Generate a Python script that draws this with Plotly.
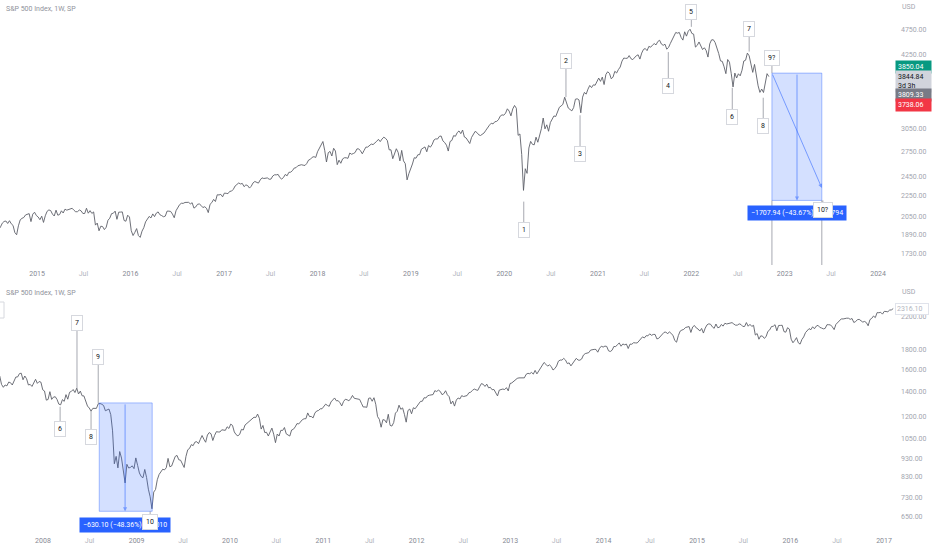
import numpy as np
import pandas as pd
import plotly.graph_objects as go

# ---------------- data (S&P 500 weekly closes) ----------------
TITLE = "S&P 500 Index, 1W, SP"
FIRST_WEEK = "2007-07-09"   # Monday of first weekly bar

close_2007 = [1552.5, 1534.1, 1458.95, 1433.1, 1453.6, 1445.9, 1479.4, 1474.0, 1453.55, 1484.25, 1525.75,
              1526.75, 1557.6, 1561.8, 1500.6, 1535.3, 1509.65, 1453.7, 1458.7, 1440.7, 1481.1, 1504.7,
              1467.95, 1484.5, 1478.5]
close_2008 = [1411.6, 1401.0, 1325.2, 1330.6, 1395.4, 1331.3, 1350.0, 1353.1, 1330.6, 1293.4, 1288.1, 1329.5,
              1315.2, 1370.4, 1332.8, 1390.3, 1397.8, 1413.9, 1388.3, 1425.35, 1375.9, 1400.4, 1360.7, 1360.0,
              1317.9, 1278.4, 1262.9, 1239.5, 1260.7, 1257.8, 1260.3, 1296.3, 1298.2, 1292.2, 1282.8, 1242.3,
              1251.7, 1255.1, 1213.3, 1099.2, 899.2, 940.55, 876.8, 968.75, 931.0, 873.3, 800.0, 896.2, 876.1,
              879.7, 887.9, 872.8]
close_2009 = [931.8, 890.35, 850.1, 831.95, 825.9, 868.6, 826.8, 770.05, 735.1, 683.4, 756.55, 768.5, 815.9,
              842.5, 856.6, 869.6, 866.2, 877.5, 929.2, 882.9, 887.0, 919.1, 940.1, 946.2, 921.2, 918.9, 896.4,
              879.1, 940.4, 979.3, 987.5, 1010.5, 1004.1, 1026.1, 1028.9, 1016.4, 1042.7, 1068.3, 1044.4,
              1025.2, 1071.5, 1087.7, 1079.6, 1036.2, 1069.3, 1093.5, 1091.4, 1091.5, 1106.0, 1106.4, 1102.5,
              1126.5, 1115.1]
close_2010 = [1145.0, 1136.0, 1091.8, 1073.9, 1066.2, 1075.5, 1109.2, 1104.5, 1138.7, 1150.0, 1159.9, 1166.6,
              1178.1, 1194.4, 1192.1, 1217.3, 1186.7, 1110.9, 1135.7, 1087.7, 1089.4, 1064.9, 1091.6, 1117.5,
              1076.8, 1022.6, 1078.0, 1064.9, 1102.7, 1101.6, 1121.6, 1079.25, 1071.7, 1064.6, 1104.5, 1109.55,
              1125.6, 1148.7, 1146.2, 1165.2, 1176.2, 1183.1, 1183.3, 1225.85, 1199.2, 1199.7, 1189.4, 1224.7,
              1240.4, 1243.9, 1256.8, 1257.6]
close_2011 = [1271.5, 1293.2, 1283.4, 1276.3, 1310.9, 1329.15, 1343.0, 1319.9, 1321.2, 1304.3, 1279.2, 1313.8,
              1332.4, 1328.2, 1319.7, 1337.4, 1363.6, 1340.2, 1337.8, 1333.3, 1331.1, 1300.2, 1271.0, 1271.5,
              1268.45, 1339.7, 1343.8, 1316.1, 1345.0, 1292.3, 1199.4, 1178.8, 1123.5, 1176.8, 1174.0, 1154.2,
              1216.0, 1136.4, 1131.4, 1155.5, 1224.6, 1238.25, 1285.1, 1253.2, 1263.85, 1215.65, 1158.7,
              1244.3, 1255.2, 1219.7, 1265.3, 1257.6]
close_2012 = [1277.8, 1289.1, 1315.4, 1316.3, 1344.9, 1342.6, 1361.2, 1365.7, 1369.6, 1370.9, 1404.2, 1397.1,
              1408.5, 1398.1, 1370.3, 1378.5, 1403.4, 1369.1, 1353.4, 1295.2, 1317.8, 1278.0, 1325.7, 1342.8,
              1335.0, 1362.2, 1354.7, 1356.8, 1362.7, 1386.0, 1391.0, 1405.9, 1418.2, 1411.1, 1406.6, 1437.9,
              1465.8, 1460.2, 1440.7, 1460.9, 1428.6, 1433.2, 1411.9, 1414.2, 1379.85, 1359.9, 1409.15, 1416.2,
              1418.1, 1413.6, 1430.15, 1402.4]
close_2013 = [1466.5, 1472.1, 1486.0, 1503.0, 1513.2, 1517.9, 1519.8, 1515.6, 1518.2, 1551.2, 1560.7, 1556.9,
              1569.2, 1553.3, 1588.85, 1555.25, 1582.2, 1614.4, 1633.7, 1667.5, 1649.6, 1630.7, 1643.4, 1626.7,
              1592.4, 1606.3, 1631.9, 1680.2, 1692.1, 1691.65, 1709.7, 1691.4, 1655.8, 1663.5, 1633.0, 1655.2,
              1688.0, 1709.9, 1691.75, 1690.5, 1703.2, 1744.5, 1759.8, 1761.6, 1770.6, 1798.2, 1804.8, 1805.8,
              1805.1, 1775.3, 1818.3, 1841.4]
close_2014 = [1831.4, 1842.4, 1838.7, 1790.3, 1782.6, 1797.0, 1838.6, 1836.25, 1859.45, 1878.0, 1841.1, 1866.5,
              1857.6, 1865.1, 1815.7, 1864.85, 1863.4, 1881.1, 1878.5, 1877.9, 1900.5, 1923.6, 1949.4, 1936.2,
              1962.9, 1961.0, 1985.4, 1967.6, 1978.2, 1978.3, 1925.15, 1931.6, 1955.1, 1988.4, 2003.4, 2007.7,
              1985.5, 2010.4, 1982.9, 1967.9, 1906.1, 1886.8, 1964.6, 2018.1, 2031.9, 2039.8, 2063.5, 2067.6,
              2075.4, 2002.3, 2070.7, 2088.8]
close_2015 = [2058.2, 2044.8, 2019.4, 2051.8, 1995.0, 2055.5, 2097.0, 2110.3, 2104.5, 2071.3, 2053.4, 2108.1,
              2061.0, 2067.0, 2102.1, 2081.2, 2117.7, 2108.3, 2116.1, 2122.7, 2126.1, 2107.4, 2092.8, 2094.1,
              2110.0, 2101.5, 2076.8, 2076.6, 2126.6, 2079.7, 2103.8, 2077.6, 2091.5, 1970.9, 1988.9, 1921.2,
              1961.1, 1958.0, 1931.3, 1951.4, 2014.9, 2033.1, 2075.2, 2079.4, 2099.2, 2023.0, 2089.2, 2090.1,
              2091.7, 2012.4, 2005.6, 2061.0]
close_2016 = [2043.9, 1922.0, 1880.3, 1906.9, 1940.2, 1880.1, 1864.8, 1917.8, 1948.05, 2000.0, 2022.2, 2049.6,
              2035.9, 2072.8, 2047.6, 2080.7, 2091.6, 2065.3, 2057.1, 2046.6, 2052.3, 2099.1, 2099.1, 2096.1,
              2071.2, 2037.4, 2103.0, 2129.9, 2161.7, 2175.0, 2173.6, 2182.9, 2184.05, 2183.9, 2169.0, 2180.0,
              2127.8, 2139.2, 2164.7, 2168.3, 2153.7, 2133.0, 2141.2, 2126.4, 2085.2, 2164.5, 2181.9, 2213.4,
              2191.95, 2259.5, 2258.1, 2263.8, 2238.8]
close_2017 = [2277.0, 2274.6, 2271.3, 2294.7, 2297.4, 2316.1, 2351.2, 2367.3, 2383.1, 2372.6, 2378.25, 2344.0,
              2362.7, 2355.5, 2329.0, 2348.7, 2384.2, 2399.3, 2390.9, 2381.7, 2415.8, 2439.1, 2431.8, 2433.2,
              2438.3, 2423.4, 2425.2, 2459.3, 2472.5, 2472.1, 2476.8, 2441.3, 2425.6, 2443.05, 2476.55, 2461.4,
              2500.2, 2502.2, 2519.4, 2549.3, 2553.2, 2575.2, 2581.1, 2587.8, 2582.3, 2578.85, 2602.4, 2642.2,
              2651.5, 2675.8, 2683.3, 2673.6]
close_2018 = [2743.2, 2786.2, 2810.3, 2872.9, 2762.1, 2619.6, 2732.2, 2747.3, 2691.3, 2786.6, 2752.0, 2588.3,
              2640.9, 2604.5, 2656.3, 2670.1, 2669.9, 2663.4, 2727.7, 2713.0, 2721.3, 2734.6, 2779.0, 2779.4,
              2754.9, 2718.4, 2759.8, 2801.3, 2801.8, 2818.8, 2840.35, 2833.3, 2850.1, 2874.7, 2901.5, 2871.7,
              2905.0, 2929.7, 2914.0, 2885.6, 2767.1, 2767.8, 2658.7, 2723.1, 2781.0, 2736.3, 2632.6, 2760.2,
              2633.1, 2600.0, 2416.6, 2485.7]
close_2019 = [2531.9, 2596.3, 2670.7, 2664.8, 2706.5, 2707.9, 2775.6, 2792.7, 2803.7, 2743.1, 2822.5, 2800.7,
              2834.4, 2892.7, 2907.4, 2905.0, 2939.9, 2945.6, 2881.4, 2859.5, 2826.1, 2752.1, 2873.3, 2887.0,
              2950.5, 2941.8, 2990.4, 3013.8, 2976.6, 3025.9, 2932.1, 2918.7, 2888.7, 2847.1, 2926.5, 2978.7,
              3007.4, 2992.1, 2961.8, 2952.0, 2970.3, 2986.2, 3022.6, 3066.9, 3093.1, 3120.5, 3110.3, 3141.0,
              3145.9, 3168.8, 3221.2, 3240.0]
close_2020 = [3234.9, 3265.4, 3329.6, 3295.5, 3225.5, 3327.7, 3380.2, 3337.8, 2954.2, 2972.4, 2711.0, 2304.9,
              2541.5, 2488.7, 2789.8, 2874.6, 2836.7, 2830.7, 2929.8, 2863.7, 2955.5, 3044.3, 3193.9, 3041.3,
              3097.7, 3009.1, 3130.0, 3185.0, 3224.7, 3215.6, 3271.1, 3351.3, 3372.9, 3397.2, 3508.0, 3427.0,
              3341.0, 3319.5, 3298.5, 3348.4, 3477.1, 3483.3, 3465.4, 3270.0, 3509.4, 3585.2, 3557.5, 3638.4,
              3699.1, 3663.5, 3709.4, 3703.1, 3756.1]
close_2021 = [3824.7, 3768.3, 3841.5, 3714.2, 3886.8, 3934.8, 3906.7, 3811.2, 3841.9, 3943.3, 3913.1, 3974.5,
              4019.9, 4128.8, 4185.5, 4180.2, 4181.2, 4232.6, 4173.9, 4155.9, 4204.1, 4229.9, 4247.4, 4166.5,
              4280.7, 4352.3, 4369.6, 4327.2, 4411.8, 4395.3, 4436.5, 4468.0, 4441.7, 4509.4, 4535.4, 4458.6,
              4433.0, 4455.5, 4357.0, 4391.3, 4471.4, 4544.9, 4605.4, 4697.5, 4682.9, 4698.0, 4594.6, 4538.4,
              4712.0, 4620.6, 4725.8, 4766.2]
close_2022 = [4677.0, 4662.9, 4397.9, 4431.9, 4500.5, 4418.6, 4348.9, 4384.7, 4328.9, 4204.3, 4463.1, 4543.1,
              4545.9, 4488.3, 4392.6, 4271.8, 4131.9, 4123.3, 4023.9, 3901.4, 4158.2, 4108.5, 3900.9, 3674.8,
              3911.7, 3825.3, 3899.4, 3863.2, 3961.6, 4130.3, 4145.2, 4280.2, 4228.5, 4057.7, 3924.3, 4067.4,
              3873.3, 3693.2, 3585.6, 3639.7, 3583.1, 3752.8, 3901.1, 3850.0]

# wave-count labels: top chart
top_wave_text = ["1", "2", "3", "4", "5", "6", "7", "8", "9?", "10?"]
top_wave_date = ["2020-03-17", "2020-08-29", "2020-10-23", "2021-10-03", "2022-01-01", "2022-06-10",
                 "2022-08-15", "2022-10-09", "2022-11-12", "2023-05-30"]
top_wave_pivot = [2191, 3511, 3234, 4300, 4818, 3660, 4310, 3500, 3911, 2203]
top_wave_box = [1928, 4131, 2716, 3690, 5152, 3209, 4771, 3082, 4187, 2110]

# wave-count labels: bottom chart
bot_wave_text = ["6", "7", "8", "9", "10"]
bot_wave_date = ["2008-03-08", "2008-05-13", "2008-07-07", "2008-08-04", "2009-02-23"]
bot_wave_pivot = [1273, 1424, 1248, 1300, 673]
bot_wave_box = [1111, 2121, 1058, 1724, 630]

# price-range tools
top_range_dates = ["2022-11-12", "2023-02-18", "2023-05-26"]   # left, middle, right
top_range_prices = [3911.0, 2203.06]                             # top, bottom
top_range_arrow_end = 2330
top_range_label = "\u22121707.94 (\u221243.67%) \u2212170794"
top_range_label_price = 2077

bot_range_dates = ["2008-08-08", "2008-11-17", "2009-03-03"]
bot_range_prices = [1303.0, 672.9]
bot_range_label = "\u2212630.10 (\u221248.36%) \u221263010"
bot_range_label_price = 619

# axes
top_x_range = ["2014-08-09", "2024-03-07"]
bot_x_range = ["2007-07-17", "2017-02-13"]
top_years = list(range(2015, 2025))
bot_years = list(range(2008, 2018))
top_price_ticks = [1730, 1890, 2050, 2250, 2450, 2750, 3050, 4250, 4750]
bot_price_ticks = [650, 730, 830, 930, 1050, 1200, 1400, 1600, 1800, 2200]

# ---------------- build ----------------
chunks = [close_2007, close_2008, close_2009, close_2010, close_2011, close_2012, close_2013, close_2014,
          close_2015, close_2016, close_2017, close_2018, close_2019, close_2020, close_2021, close_2022]
weekly_close = [v for c in chunks for v in c]
dates = pd.date_range(FIRST_WEEK, periods=len(weekly_close), freq="W-MON")
s = pd.Series(weekly_close, index=dates)
top_s = s[s.index >= "2014-07-28"]
bot_s = s[s.index <= "2017-02-06"]

W, H = 932, 550
XR = 895 / W
TOP_DOM = [1 - 265 / H, 1.0]
BOT_DOM = [1 - 532 / H, 1 - 285 / H]

BAR = "#5d6069"
GRAYLINE = "rgba(130,133,144,0.7)"
BLUE_FILL = "rgba(41,98,255,0.20)"
BLUE_LINE = "rgba(41,98,255,0.40)"
FONT = "Roboto"

fig = go.Figure()
fig.add_trace(go.Scatter(x=top_s.index, y=top_s.values, mode="lines", line=dict(color=BAR, width=0.9),
                         xaxis="x", yaxis="y", hoverinfo="skip", showlegend=False))
fig.add_trace(go.Scatter(x=bot_s.index, y=bot_s.values, mode="lines", line=dict(color=BAR, width=0.9),
                         xaxis="x2", yaxis="y2", hoverinfo="skip", showlegend=False))

annotations = []


def add_range(dates_, prices, xa, ya, label, label_price, arrow_end=None, guides=False):
    l, m, r = dates_
    t, b = prices
    fig.add_trace(go.Scatter(x=[l, r, r, l, l], y=[t, t, b, b, t], mode="lines", fill="toself",
                             fillcolor=BLUE_FILL, line=dict(color=BLUE_LINE, width=1),
                             xaxis=xa, yaxis=ya, hoverinfo="skip", showlegend=False))
    if guides:
        for d in (l, r):
            fig.add_trace(go.Scatter(x=[d, d], y=[b, b * 0.7], mode="lines", line=dict(color=GRAYLINE, width=1),
                                     xaxis=xa, yaxis=ya, hoverinfo="skip", showlegend=False))
    annotations.append(dict(x=m, y=np.log10(b), ax=m, ay=np.log10(t), xref=xa, yref=ya,
                            axref=xa, ayref=ya, showarrow=True, text="", arrowhead=2, arrowsize=0.8,
                            arrowwidth=1, arrowcolor="rgba(41,98,255,0.55)"))
    if arrow_end is not None:
        annotations.append(dict(x=r, y=np.log10(arrow_end), ax=l, ay=np.log10(t), xref=xa, yref=ya,
                                axref=xa, ayref=ya, showarrow=True, text="", arrowhead=2, arrowsize=0.8,
                                arrowwidth=1, arrowcolor="rgba(41,98,255,0.55)"))
    annotations.append(dict(x=m, y=np.log10(label_price), xref=xa, yref=ya, text=label, showarrow=False,
                            bgcolor="#2962ff", borderpad=3, font=dict(family=FONT, size=7, color="white")))


add_range(top_range_dates, top_range_prices, "x", "y", top_range_label, top_range_label_price,
          arrow_end=top_range_arrow_end, guides=True)
add_range(bot_range_dates, bot_range_prices, "x2", "y2", bot_range_label, bot_range_label_price)


def add_waves(texts, dts, pivots, boxes, xa, ya):
    for t, d, p, bx in zip(texts, dts, pivots, boxes):
        fig.add_trace(go.Scatter(x=[d, d], y=[p, bx], mode="lines", line=dict(color=GRAYLINE, width=1),
                                 xaxis=xa, yaxis=ya, hoverinfo="skip", showlegend=False))
        annotations.append(dict(x=d, y=np.log10(bx), xref=xa, yref=ya, text=t, showarrow=False,
                                bgcolor="white", bordercolor="#d6d8de", borderwidth=1, borderpad=3,
                                font=dict(family=FONT, size=7, color="#131722")))


add_waves(top_wave_text, top_wave_date, top_wave_pivot, top_wave_box, "x", "y")
add_waves(bot_wave_text, bot_wave_date, bot_wave_pivot, bot_wave_box, "x2", "y2")

# header / scale texts
for py in (9, 293):
    annotations.append(dict(x=4 / W, y=1 - py / H, xref="paper", yref="paper", xanchor="left", yanchor="middle",
                            text=TITLE, showarrow=False, font=dict(family=FONT, size=7, color="#8f929b")))
for py in (7, 292):
    annotations.append(dict(x=900 / W, y=1 - py / H, xref="paper", yref="paper", xanchor="left", yanchor="middle",
                            text="USD", showarrow=False, font=dict(family=FONT, size=7, color="#a3a6af")))

price_tags = [("3850.04", 67, "#089981", "white"),
              ("3844.84<br>3d 3h", 82, "#d1d4dc", "#131722"),
              ("3809.33", 95, "#787b86", "white"),
              ("3738.06", 105, "#f23645", "white")]
for txt, py, bg, fc in price_tags:
    annotations.append(dict(x=XR, y=1 - py / H, xref="paper", yref="paper", xanchor="left", yanchor="middle",
                            text=txt, showarrow=False, bgcolor=bg, width=31, align="left", borderpad=2,
                            font=dict(family=FONT, size=7, color=fc)))
annotations.append(dict(x=XR, y=1 - 309 / H, xref="paper", yref="paper", xanchor="left", yanchor="middle",
                        text="2316.10", showarrow=False, bgcolor="white", bordercolor="#e0e3eb", borderwidth=1,
                        width=30, align="left", borderpad=1, font=dict(family=FONT, size=7, color="#b2b5be")))

# clipped label box at the left edge of the lower chart
shapes = [dict(type="rect", xref="paper", yref="paper", x0=-0.02, x1=4 / W, y0=1 - 318 / H, y1=1 - 302 / H,
               line=dict(color="#d6d8de", width=1), fillcolor="white")]


def xticks(years):
    vals, txt = [], []
    for y in years:
        vals.append(f"{y}-01-01")
        txt.append(f"<span style='color:#868993'>{y}</span>")
        vals.append(f"{y}-07-01")
        txt.append("<span style='color:#b2b5be'>Jul</span>")
    return vals, txt


tv, tt = xticks(top_years)
bv, bt = xticks(bot_years)

common_x = dict(showgrid=False, zeroline=False, showline=False, ticks="", type="date",
                tickfont=dict(family=FONT, size=7, color="#868993"), ticklabelstandoff=3)
common_y = dict(showgrid=False, zeroline=False, showline=False, ticks="", type="log", side="right",
                tickfont=dict(family=FONT, size=7, color="#a3a6af"), ticklabelstandoff=5)

fig.update_layout(
    width=W, height=H, margin=dict(l=0, r=0, t=0, b=0),
    paper_bgcolor="white", plot_bgcolor="white", showlegend=False,
    xaxis=dict(domain=[0, XR], anchor="y", range=top_x_range, tickvals=tv, ticktext=tt, **common_x),
    yaxis=dict(domain=TOP_DOM, anchor="x", range=[3.21654, 3.73545], tickvals=top_price_ticks,
               ticktext=[f"{v:.2f}" for v in top_price_ticks], **common_y),
    xaxis2=dict(domain=[0, XR], anchor="y2", range=bot_x_range, tickvals=bv, ticktext=bt, **common_x),
    yaxis2=dict(domain=BOT_DOM, anchor="x2", range=[2.77318, 3.42716], tickvals=bot_price_ticks,
                ticktext=[f"{v:.2f}" for v in bot_price_ticks], **common_y),
    annotations=annotations,
    shapes=shapes,
)

fig.write_html("out.html", config={"displayModeBar": False},
               post_script="document.body.style.margin='0px';document.body.style.overflow='hidden';")
